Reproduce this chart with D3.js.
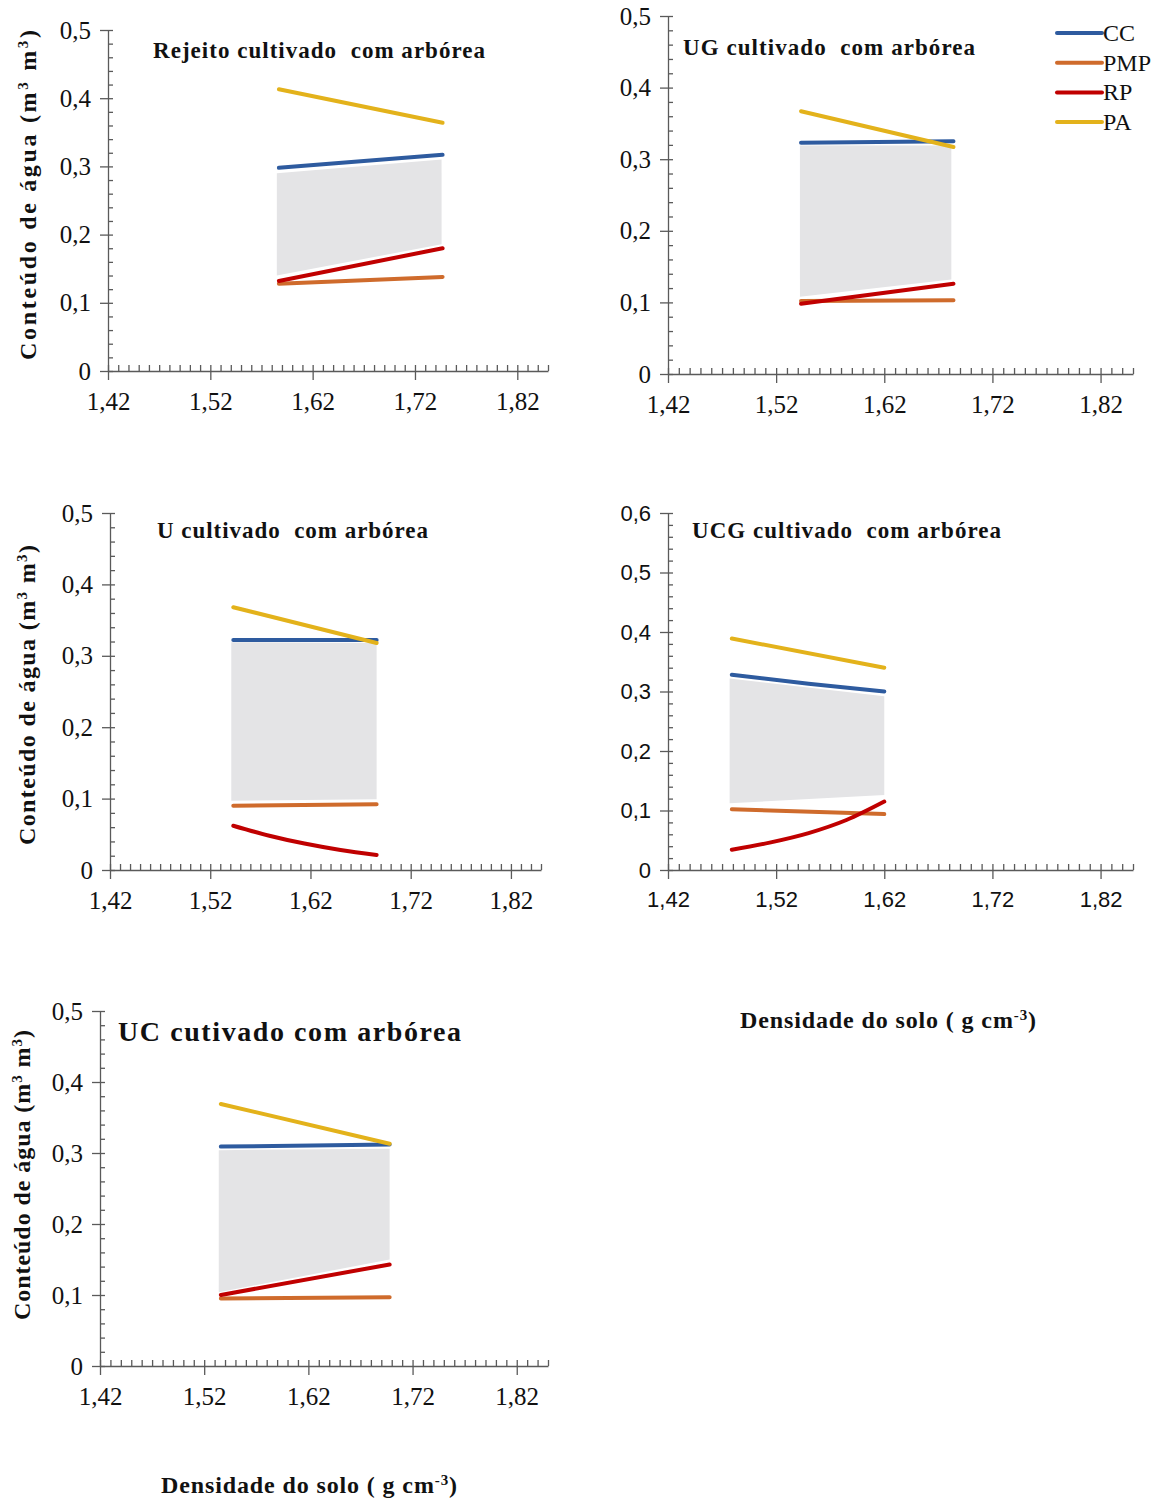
<!DOCTYPE html>
<html lang="pt">
<head>
  <meta charset="UTF-8">
  <title>Conteúdo de água x Densidade do solo</title>
  <script src="https://d3js.org/d3.v7.min.js"></script>
  <style>
    body { margin: 0; background: #fff; }
    svg { display: block; background: #fff; }
    .axis path, .axis line { stroke: #5a5a5a; stroke-width: 1.3; }
    .axis text { fill: #111; font-family: "Liberation Serif", "DejaVu Serif", serif; font-size: 25px; }
    .axis.sans text { font-family: "Liberation Sans", Arial, sans-serif; font-size: 22px; }
    .title { font-family: "Liberation Serif", serif; font-weight: bold; fill: #111; }
    .lab { font-family: "Liberation Serif", serif; font-weight: bold; font-size: 24px; fill: #111; }
    .legend text { font-family: "Liberation Serif", serif; font-size: 24px; fill: #111; }
  </style>
</head>
<body>
<svg id="chart" width="1163" height="1502"></svg>
<script>
  // ---- data ----
  const xTicks = [1.42, 1.52, 1.62, 1.72, 1.82];
  const xTickLabels = ["1,42", "1,52", "1,62", "1,72", "1,82"];
  const seriesNames = ["CC", "PMP", "RP", "PA"];
  const panelTitles = [
    "Rejeito cultivado  com arbórea",
    "UG cultivado  com arbórea",
    "U cultivado  com arbórea",
    "UCG cultivado  com arbórea",
    "UC cutivado com arbórea"
  ];
  const yMaxima = [0.5, 0.5, 0.5, 0.6, 0.5];

  // [densidade, conteúdo de água]
  const ccPoints = [
    [[1.587, 0.298], [1.747, 0.317]],
    [[1.543, 0.323], [1.684, 0.325]],
    [[1.543, 0.322], [1.686, 0.322]],
    [[1.479, 0.328], [1.55, 0.313], [1.62, 0.300]],
    [[1.536, 0.309], [1.698, 0.312]]
  ];
  const pmpPoints = [
    [[1.587, 0.128], [1.747, 0.138]],
    [[1.543, 0.102], [1.684, 0.103]],
    [[1.543, 0.090], [1.686, 0.092]],
    [[1.479, 0.102], [1.62, 0.094]],
    [[1.536, 0.095], [1.698, 0.097]]
  ];
  const rpPoints = [
    [[1.587, 0.132], [1.747, 0.180]],
    [[1.543, 0.098], [1.684, 0.126]],
    [[1.543, 0.062], [1.579, 0.048], [1.614, 0.037], [1.650, 0.028], [1.686, 0.021]],
    [[1.479, 0.034], [1.514, 0.046], [1.55, 0.062], [1.585, 0.084], [1.62, 0.115]],
    [[1.536, 0.100], [1.698, 0.143]]
  ];
  const paPoints = [
    [[1.587, 0.413], [1.747, 0.364]],
    [[1.543, 0.367], [1.684, 0.317]],
    [[1.543, 0.368], [1.686, 0.318]],
    [[1.479, 0.389], [1.62, 0.340]],
    [[1.536, 0.369], [1.698, 0.313]]
  ];
  // grey band (água disponível): [densidade, topo, base]
  const bandPoints = [
    [[1.585, 0.290, 0.140], [1.746, 0.310, 0.186]],
    [[1.542, 0.319, 0.108], [1.682, 0.319, 0.132]],
    [[1.541, 0.319, 0.097], [1.686, 0.318, 0.099]],
    [[1.477, 0.322, 0.112], [1.62, 0.292, 0.126]],
    [[1.534, 0.304, 0.104], [1.698, 0.306, 0.150]]
  ];

  const colors = { CC: "#2e5b9f", PMP: "#cf6b2c", RP: "#c00000", PA: "#e3b21b" };

  // ---- layout ----
  const panels = [
    { x0: 108, x1: 548, yb: 371, yt: 30, title: [153, 58, 332, 23], ylab: [28, 195, 330], sans: false },
    { x0: 668, x1: 1133, yb: 374, yt: 16, title: [683, 55, 292, 23], ylab: null, sans: false },
    { x0: 110, x1: 541, yb: 870, yt: 513, title: [157, 538, 271, 23], ylab: [27, 695, 300], sans: false },
    { x0: 668, x1: 1133, yb: 870, yt: 513, title: [692, 538, 309, 23], ylab: null, sans: true },
    { x0: 100, x1: 548, yb: 1366, yt: 1011, title: [118, 1041, 343, 28], ylab: [22, 1175, 290], sans: false }
  ];

  const svg = d3.select("#chart");
  const fmtY = d => d === 0 ? "0" : d.toFixed(1).replace(".", ",");

  panels.forEach((p, i) => {
    const yMax = yMaxima[i];
    const x = d3.scaleLinear().domain([1.42, 1.85]).range([p.x0, p.x1]);
    const y = d3.scaleLinear().domain([0, yMax]).range([p.yb, p.yt]);
    const g = svg.append("g");

    const yMajor = d3.range(0, yMax + 0.001, 0.1).map(v => +v.toFixed(2));
    const yMinor = d3.range(0, yMax + 0.001, 0.02).map(v => +v.toFixed(2));
    const xMinor = d3.range(0, 44).map(k => +(1.42 + k * 0.01).toFixed(2));

    // grey band
    const band = d3.area()
      .x(d => x(d[0]))
      .y0(d => y(d[2]))
      .y1(d => y(d[1]));
    g.append("path").datum(bandPoints[i]).attr("d", band).attr("fill", "#e4e4e6");

    // axes
    g.append("g").attr("class", "axis" + (p.sans ? " sans" : ""))
      .attr("transform", `translate(${p.x0},0)`)
      .call(d3.axisLeft(y).tickValues(yMajor).tickSize(8).tickSizeOuter(0).tickPadding(9).tickFormat(fmtY));
    g.append("g").attr("class", "axis")
      .attr("transform", `translate(${p.x0},0)`)
      .call(d3.axisRight(y).tickValues(yMinor).tickSize(5).tickFormat(""))
      .call(s => s.select(".domain").remove());

    g.append("g").attr("class", "axis" + (p.sans ? " sans" : ""))
      .attr("transform", `translate(0,${p.yb})`)
      .call(d3.axisBottom(x).tickValues(xTicks).tickSize(9).tickSizeOuter(0).tickPadding(12)
        .tickFormat((d, k) => xTickLabels[k]));
    g.append("g").attr("class", "axis")
      .attr("transform", `translate(0,${p.yb})`)
      .call(d3.axisTop(x).tickValues(xMinor).tickSize(6).tickFormat(""))
      .call(s => s.select(".domain").remove());

    // lines
    const line = d3.line().x(d => x(d[0])).y(d => y(d[1])).curve(d3.curveMonotoneX);
    const sets = { CC: ccPoints[i], PMP: pmpPoints[i], RP: rpPoints[i], PA: paPoints[i] };
    ["PMP", "RP", "CC", "PA"].forEach(name => {
      g.append("path").datum(sets[name])
        .attr("d", line)
        .attr("fill", "none")
        .attr("stroke", colors[name])
        .attr("stroke-width", 4)
        .attr("stroke-linecap", "round");
    });

    // title
    g.append("text").attr("class", "title")
      .attr("x", p.title[0]).attr("y", p.title[1])
      .attr("font-size", p.title[3])
      .attr("textLength", p.title[2]).attr("lengthAdjust", "spacing")
      .style("white-space", "pre")
      .text(panelTitles[i]);

    // y label
    if (p.ylab) {
      const t = g.append("text").attr("class", "lab")
        .attr("text-anchor", "middle")
        .attr("transform", `translate(${p.ylab[0] + 8},${p.ylab[1]}) rotate(-90)`)
        .attr("textLength", p.ylab[2]).attr("lengthAdjust", "spacing");
      t.append("tspan").text("Conteúdo de água (m");
      t.append("tspan").attr("baseline-shift", "super").attr("font-size", 15).text("3");
      t.append("tspan").text(" m");
      t.append("tspan").attr("baseline-shift", "super").attr("font-size", 15).text("3");
      t.append("tspan").text(")");
    }
  });

  // x axis titles
  [[888, 1028], [309, 1493]].forEach(pos => {
    const t = svg.append("text").attr("class", "lab")
      .attr("x", pos[0]).attr("y", pos[1]).attr("text-anchor", "middle")
      .attr("textLength", 296).attr("lengthAdjust", "spacing");
    t.append("tspan").text("Densidade do solo ( g cm");
    t.append("tspan").attr("baseline-shift", "super").attr("font-size", 15).text("-3");
    t.append("tspan").text(")");
  });

  // legend
  const legend = svg.append("g").attr("class", "legend").attr("transform", "translate(1057,33)");
  seriesNames.forEach((name, k) => {
    const row = legend.append("g").attr("transform", `translate(0,${k * 29.7})`);
    row.append("line").attr("x1", 0).attr("x2", 45).attr("y1", 0).attr("y2", 0)
      .attr("stroke", colors[name]).attr("stroke-width", 4).attr("stroke-linecap", "round");
    row.append("text").attr("x", 46).attr("y", 8).text(name);
  });
</script>
</body>
</html>
